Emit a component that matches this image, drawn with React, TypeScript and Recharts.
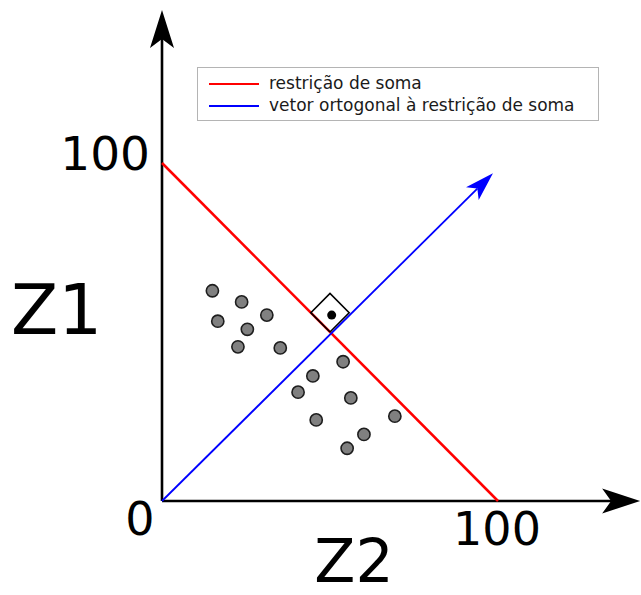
import React from 'react';
import {
  ScatterChart,
  Scatter,
  XAxis,
  YAxis,
  ReferenceLine,
  Legend,
  Label,
} from 'recharts';

// Sum constraint Z1 + Z2 = 100 (endpoints on both axes)
const constraintZ2 = [0, 100];
const constraintZ1 = [100, 0];

// Vector orthogonal to the constraint, from the origin to its arrow tip
const orthoZ2 = [0, 98.5];
const orthoZ1 = [0, 97];

// Axis arrows end a bit beyond 100
const axisTipZ2 = 142.3;
const axisTipZ1 = 145.3;

// Right-angle marker where the two lines cross, plus its dot
const cornerZ2 = [50, 44.3, 50, 55.7, 50];
const cornerZ1 = [50, 55.7, 61.4, 55.7, 50];
const cornerDotZ2 = [50.5];
const cornerDotZ1 = [55];

// Sample compositions
const sampleZ2 = [15.0, 23.7, 16.6, 31.2, 25.4, 22.6, 35.2, 53.9, 44.9, 40.5, 56.2, 69.3, 45.9, 60.1, 55.1];
const sampleZ1 = [62.2, 58.9, 53.2, 55.0, 50.8, 45.6, 45.3, 41.2, 37.0, 32.2, 30.5, 25.1, 24.0, 19.7, 15.6];

// Axis ticks and titles
const z2Ticks = [0, 100];
const z1Ticks = [100];
const z2Title = 'Z2';
const z1Title = 'Z1';

// Legend entries
const legendNames = ['restrição de soma', 'vetor ortogonal à restrição de soma'];
const legendColors = ['#ff0000', '#0000ff'];

const FONT = '"DejaVu Sans", Verdana, sans-serif';

const toPoints = (xs: number[], ys: number[]) => xs.map((z2, i) => ({ z2, z1: ys[i] }));
const toSegment = (xs: number[], ys: number[]) =>
  xs.map((x, i) => ({ x, y: ys[i] })) as [{ x: number; y: number }, { x: number; y: number }];

const samples = toPoints(sampleZ2, sampleZ1);
const corner = toPoints(cornerZ2, cornerZ1);
const cornerDot = toPoints(cornerDotZ2, cornerDotZ1);

// Line with a filled arrow head at its end point
function arrowShape(color: string, width: number, head: number, half: number, notch: number) {
  return (p: any) => {
    const { x1, y1, x2, y2 } = p;
    if (![x1, y1, x2, y2].every((v) => Number.isFinite(v))) return <g />;
    const len = Math.hypot(x2 - x1, y2 - y1);
    const ang = (Math.atan2(y2 - y1, x2 - x1) * 180) / Math.PI;
    const base = len - head;
    return (
      <g transform={`translate(${x1},${y1}) rotate(${ang})`}>
        <line x1={0} y1={0} x2={base + notch} y2={0} stroke={color} strokeWidth={width} />
        <path d={`M${len},0 L${base},${-half} L${base + notch},0 L${base},${half} Z`} fill={color} />
      </g>
    );
  };
}

const Z2Tick = (props: any) => {
  const { x, y, payload } = props;
  const isOrigin = payload.value === 0;
  return (
    <text
      x={isOrigin ? x - 22 : x - 1}
      y={y + (isOrigin ? 34 : 44)}
      textAnchor="middle"
      fontSize={46}
      fontFamily={FONT}
      fill="#000"
    >
      {payload.value}
    </text>
  );
};

const Z1Tick = (props: any) => {
  const { x, y, payload } = props;
  return (
    <text x={x - 12} y={y + 7} textAnchor="end" fontSize={47} fontFamily={FONT} fill="#000">
      {payload.value}
    </text>
  );
};

const z1TitleContent = (props: any) => {
  const vb = props.viewBox || { x: 0, y: 163 };
  return (
    <text x={vb.x + 11} y={vb.y + 171} fontSize={69} fontFamily={FONT} fill="#000">
      {z1Title}
    </text>
  );
};

const z2TitleContent = (props: any) => {
  const vb = props.viewBox || { x: 162, y: 501 };
  return (
    <text x={vb.x + 192} y={vb.y + 81} textAnchor="middle" fontSize={60} fontFamily={FONT} fill="#000">
      {z2Title}
    </text>
  );
};

const legendContent = () => (
  <svg width={403} height={55} style={{ display: 'block' }}>
    <rect x={0.5} y={0.5} width={401} height={53} fill="#fff" stroke="#b4b4b4" strokeWidth={1} />
    {legendNames.map((name, i) => (
      <g key={name}>
        <line x1={12} x2={62} y1={17 + i * 22} y2={17 + i * 22} stroke={legendColors[i]} strokeWidth={2} />
        <text x={72} y={21.5 + i * 22} fontSize={17} fontFamily={FONT} fill="#1a1a1a">
          {name}
        </text>
      </g>
    ))}
  </svg>
);

export default function App() {
  return (
    <div style={{ position: 'absolute', left: 0, top: 0, width: 641, height: 595, background: '#fff' }}>
      <ScatterChart width={641} height={595} margin={{ top: 163, right: 143, bottom: 0, left: 0 }}>
        <XAxis
          type="number"
          dataKey="z2"
          domain={[0, 100]}
          ticks={z2Ticks}
          interval={0}
          height={94}
          axisLine={false}
          tickLine={false}
          tickSize={0}
          tickMargin={0}
          tick={Z2Tick}
        >
          <Label content={z2TitleContent} />
        </XAxis>
        <YAxis
          type="number"
          dataKey="z1"
          domain={[0, 100]}
          ticks={z1Ticks}
          interval={0}
          width={162}
          axisLine={false}
          tickLine={false}
          tickSize={0}
          tickMargin={0}
          tick={Z1Tick}
        >
          <Label content={z1TitleContent} />
        </YAxis>

        {/* Coordinate axes drawn as arrows */}
        <ReferenceLine
          segment={[{ x: 0, y: 0 }, { x: axisTipZ2, y: 0 }]}
          ifOverflow="visible"
          shape={arrowShape('#000', 2.6, 38, 12.5, 9)}
        />
        <ReferenceLine
          segment={[{ x: 0, y: 0 }, { x: 0, y: axisTipZ1 }]}
          ifOverflow="visible"
          shape={arrowShape('#000', 2.6, 38, 12, 9)}
        />

        <ReferenceLine
          segment={toSegment(constraintZ2, constraintZ1)}
          ifOverflow="visible"
          stroke={legendColors[0]}
          strokeWidth={2.5}
        />
        <ReferenceLine
          segment={toSegment(orthoZ2, orthoZ1)}
          ifOverflow="visible"
          shape={arrowShape(legendColors[1], 1.8, 29, 9, 7)}
        />

        <Scatter
          data={corner}
          line={{ stroke: '#000', strokeWidth: 1.6 }}
          lineType="joint"
          shape={() => <g />}
          legendType="none"
          isAnimationActive={false}
        />
        <Scatter
          data={cornerDot}
          shape={(p: any) => <circle cx={p.cx} cy={p.cy} r={4.5} fill="#000" />}
          legendType="none"
          isAnimationActive={false}
        />
        <Scatter
          data={samples}
          shape={(p: any) => (
            <circle cx={p.cx} cy={p.cy} r={6.1} fill="#808080" stroke="#1e1e1e" strokeWidth={1.6} />
          )}
          legendType="none"
          isAnimationActive={false}
        />

        <Legend
          layout="vertical"
          align="center"
          verticalAlign="middle"
          content={legendContent}
          wrapperStyle={{ left: 197, top: 67, width: 403, height: 55 }}
        />
      </ScatterChart>
    </div>
  );
}
